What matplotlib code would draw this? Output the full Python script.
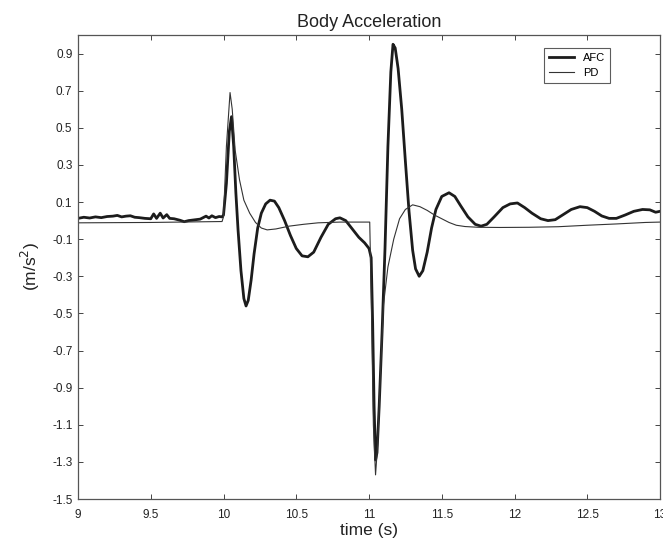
import matplotlib
matplotlib.use("Agg")
import matplotlib.pyplot as plt

# AFC series (time s, acceleration m/s^2)
afc_t = [9.00, 9.04, 9.08, 9.12, 9.16, 9.20, 9.24, 9.27, 9.30, 9.33, 9.36, 9.39,
         9.42, 9.46, 9.50, 9.52, 9.54, 9.565, 9.585, 9.61, 9.63, 9.66, 9.70, 9.73,
         9.76, 9.80, 9.84, 9.86, 9.88, 9.90, 9.92, 9.945, 9.97, 9.99,
         10.00, 10.02, 10.04, 10.055, 10.07, 10.085, 10.10, 10.12, 10.14, 10.155,
         10.17, 10.19, 10.21, 10.235, 10.26, 10.29, 10.32, 10.35, 10.38, 10.42,
         10.46, 10.50, 10.54, 10.58, 10.62, 10.67, 10.72, 10.77, 10.80, 10.84,
         10.88, 10.93, 10.97, 11.00, 11.015, 11.025, 11.035, 11.045, 11.055, 11.07,
         11.09, 11.11, 11.13, 11.15, 11.165, 11.18, 11.20, 11.225, 11.25, 11.275,
         11.30, 11.32, 11.345, 11.37, 11.40, 11.43, 11.46, 11.50, 11.55, 11.59,
         11.63, 11.68, 11.73, 11.77, 11.81, 11.86, 11.92, 11.97, 12.02, 12.07,
         12.12, 12.18, 12.23, 12.28, 12.33, 12.39, 12.45, 12.50, 12.55, 12.60,
         12.65, 12.70, 12.76, 12.82, 12.88, 12.93, 12.97, 13.00]
afc_y = [0.012, 0.018, 0.014, 0.020, 0.016, 0.022, 0.024, 0.028, 0.020, 0.024, 0.026, 0.018,
         0.016, 0.012, 0.010, 0.036, 0.012, 0.040, 0.014, 0.032, 0.012, 0.010, 0.002, -0.006,
         0.000, 0.004, 0.008, 0.016, 0.024, 0.014, 0.026, 0.016, 0.022, 0.020,
         0.030, 0.200, 0.480, 0.560, 0.400, 0.150, -0.050, -0.270, -0.420, -0.460,
         -0.430, -0.320, -0.180, -0.040, 0.040, 0.090, 0.110, 0.105, 0.070, 0.000,
         -0.080, -0.150, -0.190, -0.195, -0.170, -0.090, -0.020, 0.010, 0.015, 0.000,
         -0.040, -0.090, -0.120, -0.150, -0.200, -0.550, -1.000, -1.290, -1.250, -1.000,
         -0.600, -0.150, 0.400, 0.800, 0.950, 0.930, 0.820, 0.600, 0.320, 0.050,
         -0.160, -0.260, -0.300, -0.270, -0.170, -0.040, 0.060, 0.130, 0.150, 0.130,
         0.080, 0.020, -0.020, -0.030, -0.020, 0.020, 0.070, 0.090, 0.095, 0.070,
         0.040, 0.010, 0.000, 0.005, 0.030, 0.060, 0.075, 0.070, 0.050, 0.025,
         0.012, 0.012, 0.030, 0.050, 0.060, 0.058, 0.045, 0.050]

# PD series
pd_t = [9.00, 9.50, 9.99, 10.00, 10.02, 10.045, 10.06, 10.08, 10.11, 10.14, 10.18,
        10.22, 10.26, 10.30, 10.36, 10.45, 10.55, 10.65, 10.80, 10.95, 11.005,
        11.015, 11.03, 11.045, 11.06, 11.08, 11.10, 11.13, 11.17, 11.21, 11.25,
        11.30, 11.35, 11.40, 11.45, 11.50, 11.55, 11.60, 11.66, 11.75, 11.90,
        12.10, 12.30, 12.50, 12.70, 12.90, 13.00]
pd_y = [-0.012, -0.010, -0.005, 0.020, 0.400, 0.690, 0.600, 0.380, 0.220, 0.110, 0.040,
        -0.010, -0.040, -0.050, -0.045, -0.030, -0.020, -0.012, -0.008, -0.008, -0.008,
        -0.400, -1.100, -1.370, -1.200, -0.800, -0.450, -0.250, -0.100, 0.010, 0.060,
        0.085, 0.075, 0.055, 0.030, 0.010, -0.010, -0.025, -0.032, -0.036, -0.037,
        -0.036, -0.033, -0.025, -0.018, -0.010, -0.008]

x_ticks = [9, 9.5, 10, 10.5, 11, 11.5, 12, 12.5, 13]
x_ticklabels = ["9", "9.5", "10", "10.5", "11", "11.5", "12", "12.5", "13"]
y_ticks = [-1.5, -1.3, -1.1, -0.9, -0.7, -0.5, -0.3, -0.1, 0.1, 0.3, 0.5, 0.7, 0.9]
y_ticklabels = ["-1.5", "-1.3", "-1.1", "-0.9", "-0.7", "-0.5", "-0.3", "-0.1",
                "0.1", "0.3", "0.5", "0.7", "0.9"]

plt.rcParams['font.family'] = ['Liberation Sans', 'DejaVu Sans']

W, H = 663, 542
fig = plt.figure(figsize=(W / 100, H / 100), dpi=100)
ax = fig.add_axes([78 / W, (H - 499) / H, (660 - 78) / W, (499 - 35) / H])

ax.plot(afc_t, afc_y, color="#1c1c1c", linewidth=2.0, label="AFC",
        solid_joinstyle="round")
ax.plot(pd_t, pd_y, color="#333333", linewidth=0.8, label="PD")

ax.set_xlim(9, 13)
ax.set_ylim(-1.5, 1.0)
ax.set_xticks(x_ticks)
ax.set_xticklabels(x_ticklabels)
ax.set_yticks(y_ticks)
ax.set_yticklabels(y_ticklabels)

ax.tick_params(direction="in", length=3.5, width=0.7, colors="#444444",
               labelcolor="#222222", labelsize=8.5, top=True, right=True)
ax.tick_params(axis="x", pad=7)
ax.tick_params(axis="y", pad=4)
for sp in ax.spines.values():
    sp.set_color("#555555")
    sp.set_linewidth(0.9)

ax.set_title("Body Acceleration", fontsize=13, color="#222222", pad=6)
ax.set_xlabel("time (s)", fontsize=12.5, color="#222222", labelpad=1.5)
ax.set_ylabel("(m/s$^2$)", fontsize=12.5, color="#222222", labelpad=7)

leg = ax.legend(loc="upper right", bbox_to_anchor=(0.914, 0.972), fontsize=8,
                frameon=True, fancybox=False, edgecolor="#333333",
                handlelength=2.2, borderpad=0.45, labelspacing=0.45,
                borderaxespad=0)
leg.get_frame().set_linewidth(0.8)

fig.savefig("out.png", dpi=100)
